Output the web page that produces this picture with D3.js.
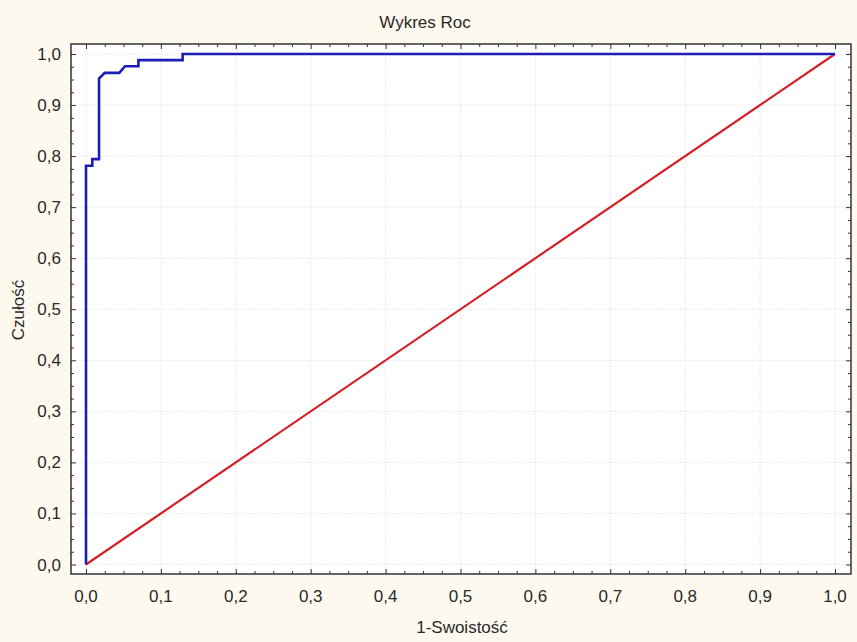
<!DOCTYPE html>
<html><head><meta charset="utf-8">
<script src="https://cdn.jsdelivr.net/npm/d3@7"></script>
<style>
html,body{margin:0;padding:0;background:#fdf9ef;}
svg{display:block;font-family:"Liberation Sans",Arial,sans-serif;}
</style></head>
<body>
<script>
const title = "Wykres Roc";
const xLabel = "1-Swoistość";
const yLabel = "Czułość";
const rocFpr = [0, 0, 0.0084, 0.0084, 0.0174, 0.0174, 0.025, 0.0445, 0.052, 0.070, 0.070, 0.129, 0.129, 1];
const rocTpr = [0, 0.781, 0.781, 0.794, 0.794, 0.952, 0.963, 0.963, 0.976, 0.976, 0.988, 0.988, 1.0, 1];
const refX = [0, 1];
const refY = [0, 1];
const majorTicks = [0,0.1,0.2,0.3,0.4,0.5,0.6,0.7,0.8,0.9,1.0];

const W = 857, H = 642;
const frame = {l:71, r:851, t:44, b:574};
const svg = d3.select("body").append("svg").attr("width",W).attr("height",H);
svg.append("rect").attr("width",W).attr("height",H).attr("fill","#fdf9ef");

const x = d3.scaleLinear().domain([0,1]).range([86,835]);
const y = d3.scaleLinear().domain([0,1]).range([564.5,54]);

svg.append("rect").attr("x",frame.l).attr("y",frame.t)
  .attr("width",frame.r-frame.l).attr("height",frame.b-frame.t).attr("fill","#ffffff");

// grid
const g = svg.append("g");
g.selectAll(".gx").data(majorTicks).join("line")
  .attr("x1",d=>x(d)).attr("x2",d=>x(d)).attr("y1",frame.t).attr("y2",frame.b)
  .attr("stroke","#ececec").attr("stroke-width",1).attr("stroke-dasharray","2,1");
g.selectAll(".gy").data(majorTicks).join("line")
  .attr("y1",d=>y(d)).attr("y2",d=>y(d)).attr("x1",frame.l).attr("x2",frame.r)
  .attr("stroke","#ececec").attr("stroke-width",1).attr("stroke-dasharray","2,1");

const fmt = d => d3.format(".1f")(d).replace(".", ",");
const minorTicks = d3.range(0, 1.0001, 0.025).filter(v => Math.abs(v*10 - Math.round(v*10)) > 1e-6);

function addAxis(axisFn, scale, translate, major, len) {
  const a = axisFn(scale).tickValues(major).tickSizeInner(len).tickSizeOuter(0).tickPadding(0);
  const sel = svg.append("g").attr("transform", translate).call(a);
  sel.select(".domain").remove();
  sel.selectAll("line").attr("stroke","#333");
  sel.selectAll("text").remove();
  return sel;
}
addAxis(d3.axisTop, x, `translate(0,${frame.b})`, majorTicks, 5);
addAxis(d3.axisTop, x, `translate(0,${frame.b})`, minorTicks, 3);
addAxis(d3.axisBottom, x, `translate(0,${frame.t})`, majorTicks, 5);
addAxis(d3.axisBottom, x, `translate(0,${frame.t})`, minorTicks, 3);
addAxis(d3.axisRight, y, `translate(${frame.l},0)`, majorTicks, 5);
addAxis(d3.axisRight, y, `translate(${frame.l},0)`, minorTicks, 3);
addAxis(d3.axisLeft, y, `translate(${frame.r},0)`, majorTicks, 5);
addAxis(d3.axisLeft, y, `translate(${frame.r},0)`, minorTicks, 3);

// tick labels
svg.append("g").selectAll("text").data(majorTicks).join("text")
  .attr("x",d=>x(d)).attr("y",602).attr("text-anchor","middle")
  .attr("font-size",17).attr("fill","#2a2a2a").text(fmt);
svg.append("g").selectAll("text").data(majorTicks).join("text")
  .attr("x",61).attr("y",d=>y(d)+6).attr("text-anchor","end")
  .attr("font-size",17).attr("fill","#2a2a2a").text(fmt);

// frame
svg.append("rect").attr("x",frame.l).attr("y",frame.t)
  .attr("width",frame.r-frame.l).attr("height",frame.b-frame.t)
  .attr("fill","none").attr("stroke","#333").attr("stroke-width",1.5);

// lines
const line = d3.line().x(d=>x(d[0])).y(d=>y(d[1]));
svg.append("path").datum(refX.map((v,i)=>[v,refY[i]])).attr("d",line)
  .attr("fill","none").attr("stroke","#d42027").attr("stroke-width",2.2);
svg.append("path").datum(rocFpr.map((v,i)=>[v,rocTpr[i]])).attr("d",line)
  .attr("fill","none").attr("stroke","#1c1cb8").attr("stroke-width",2.6);

// titles
svg.append("text").attr("x",425).attr("y",28).attr("text-anchor","middle")
  .attr("font-size",17).attr("fill","#2a2a2a").text(title);
svg.append("text").attr("x",462).attr("y",633).attr("text-anchor","middle")
  .attr("font-size",17).attr("fill","#2a2a2a").text(xLabel);
svg.append("text").attr("transform","translate(24,310) rotate(-90)").attr("text-anchor","middle")
  .attr("font-size",17).attr("fill","#2a2a2a").text(yLabel);
</script>
</body></html>
